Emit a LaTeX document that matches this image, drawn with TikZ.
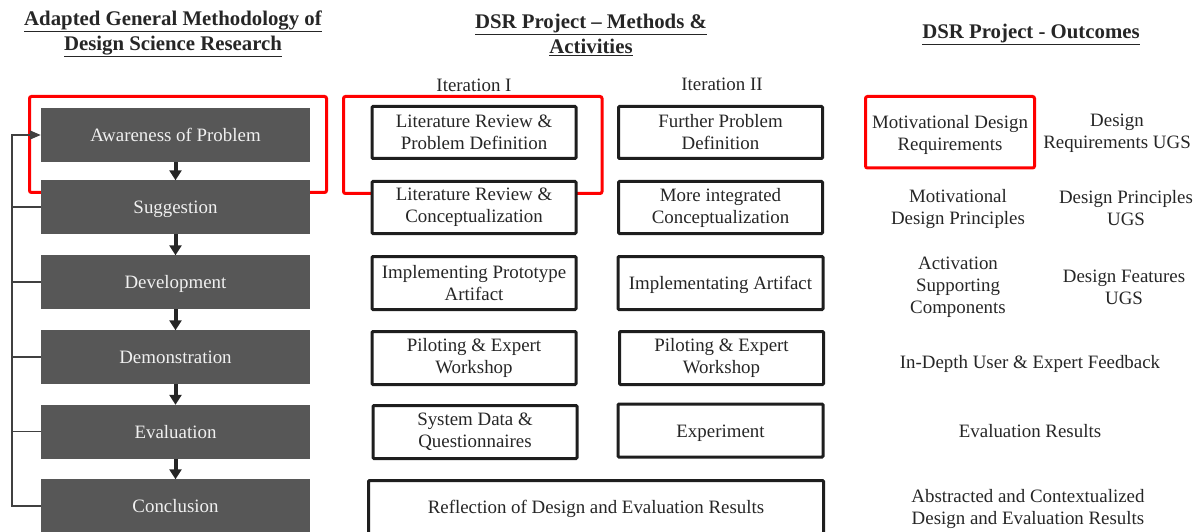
\documentclass[tikz,border=0pt]{standalone}
\usepackage{fontspec}
\setmainfont{Liberation Serif}
\usetikzlibrary{arrows.meta}
\definecolor{phasegray}{HTML}{575757}
\definecolor{phasetext}{HTML}{F0F0F0}
\definecolor{inktext}{HTML}{262626}
\definecolor{frame}{HTML}{1E1E1E}
\definecolor{hilite}{HTML}{FF0000}
\definecolor{fbgray}{HTML}{404040}
\newcommand\dsrbody{\fontsize{18.9}{22}\selectfont}
\newcommand\dsrhead{\fontsize{20.8}{25}\selectfont\bfseries}
\begin{document}
\begin{tikzpicture}[x=1pt,y=-1pt,
  phase/.style={fill=phasegray, text=phasetext, minimum width=269pt,
    minimum height=54pt, inner sep=0pt, font=\dsrbody,
    text height=18pt, text depth=4.5pt},
  actbox/.style={draw=frame, line width=3pt, fill=white, text=inktext,
    rounded corners=1pt, inner sep=0pt, align=center, font=\dsrbody,
    minimum height=52pt},
  oneline/.style={text height=18pt, text depth=4.5pt},
  outcome/.style={text=inktext, align=center, font=\dsrbody, inner sep=0pt},
  multi/.style={yshift=-2.5pt},
  head/.style={text=inktext, align=center, font=\dsrhead, inner sep=0pt},
  hiframe/.style={draw=hilite, line width=3pt, rounded corners=2pt},
  flow/.style={draw=black!85, line width=4pt,
    -{Triangle[length=10pt,width=12pt]}, shorten >=-0.5pt},
  fbline/.style={draw=fbgray, line width=1.4pt}
]
\useasboundingbox (0,0) rectangle (1200,532);
\clip (0,0) rectangle (1200,532);

% highlight frames (drawn first, boxes sit on top)
\draw[hiframe] (29.5,96.5) rectangle (326.5,192.5);
\draw[hiframe] (343.5,96.5) rectangle (602,193.5);
\draw[hiframe] (865.5,96.5) rectangle (1034.5,168);

% column headings
\node[head] (h1) at (173,33.5) {\underline{Adapted General Methodology of}\\\underline{Design Science Research}};
\node[head] (h2) at (591,34.5) {\underline{DSR Project -- Methods \&}\\\underline{Activities}};
\node[head] (h3) at (1031,34) {\underline{DSR Project - Outcomes}};

\node[outcome, oneline] (it1) at (474,85) {Iteration I};
\node[outcome, oneline] (it2) at (722,84) {Iteration II};

% general methodology phases
\node[phase] (aware) at (175.5,135) {Awareness of Problem};
\node[phase] (sugg)  at (175.5,207) {Suggestion};
\node[phase] (devel) at (175.5,282) {Development};
\node[phase] (demo)  at (175.5,357) {Demonstration};
\node[phase] (eval)  at (175.5,431.5) {Evaluation};
\node[phase] (conc)  at (175.5,506) {Conclusion};

\draw[flow] (aware) -- (sugg);
\draw[flow] (sugg) -- (devel);
\draw[flow] (devel) -- (demo);
\draw[flow] (demo) -- (eval);
\draw[flow] (eval) -- (conc);

% feedback loop on the left
\coordinate (fbx) at (12,0);
\draw[fbline, -{Triangle[length=11pt,width=9pt]}]
  (conc.west) -- (conc.west -| fbx) -- (aware.west -| fbx) -- (aware.west);
\foreach \n in {sugg,devel,demo,eval}
  \draw[fbline] (\n.west) -- (\n.west -| fbx);

% iteration I
\node[actbox, minimum width=204pt] (a1) at (474,132.5) {Literature Review \&\\Problem Definition};
\node[actbox, minimum width=204pt] (a2) at (474,207.5) {Literature Review \&\\Conceptualization};
\node[actbox, minimum width=204pt, minimum height=53pt] (a3) at (474,283) {Implementing Prototype\\Artifact};
\node[actbox, minimum width=204pt, minimum height=53pt] (a4) at (474,358) {Piloting \& Expert\\Workshop};
\node[actbox, minimum width=204pt, minimum height=53pt] (a5) at (475,432) {System Data \&\\Questionnaires};

% iteration II
\node[actbox, minimum width=204pt] (b1) at (720.5,132.5) {Further Problem\\Definition};
\node[actbox, minimum width=204pt] (b2) at (720.5,207.5) {More integrated\\Conceptualization};
\node[actbox, oneline, minimum width=205pt, minimum height=53pt] (b3) at (720.5,283) {Implementating Artifact};
\node[actbox, minimum width=204pt, minimum height=53pt] (b4) at (721.5,358) {Piloting \& Expert\\Workshop};
\node[actbox, oneline, minimum width=205pt, minimum height=53pt] (b5) at (720.5,430.5) {Experiment};

% shared reflection step
\node[actbox, oneline, minimum width=455pt, minimum height=53pt] (refl) at (596,507) {Reflection of Design and Evaluation Results};

% outcomes
\node[outcome, multi] (o1a) at (950,132) {Motivational Design\\Requirements};
\node[outcome, multi] (o1b) at (1117,131) {Design\\Requirements UGS};
\node[outcome, multi] (o2a) at (958,206) {Motivational\\Design Principles};
\node[outcome, multi] (o2b) at (1126,206) {Design Principles\\UGS};
\node[outcome, multi] (o3a) at (958,285) {Activation\\Supporting\\Components};
\node[outcome, multi] (o3b) at (1124,284.5) {Design Features\\UGS};
\node[outcome, oneline] (o4) at (1030,362) {In-Depth User \& Expert Feedback};
\node[outcome, oneline] (o5) at (1030,431) {Evaluation Results};
\node[outcome, multi] (o6) at (1028,506) {Abstracted and Contextualized\\Design and Evaluation Results};
\end{tikzpicture}
\end{document}
